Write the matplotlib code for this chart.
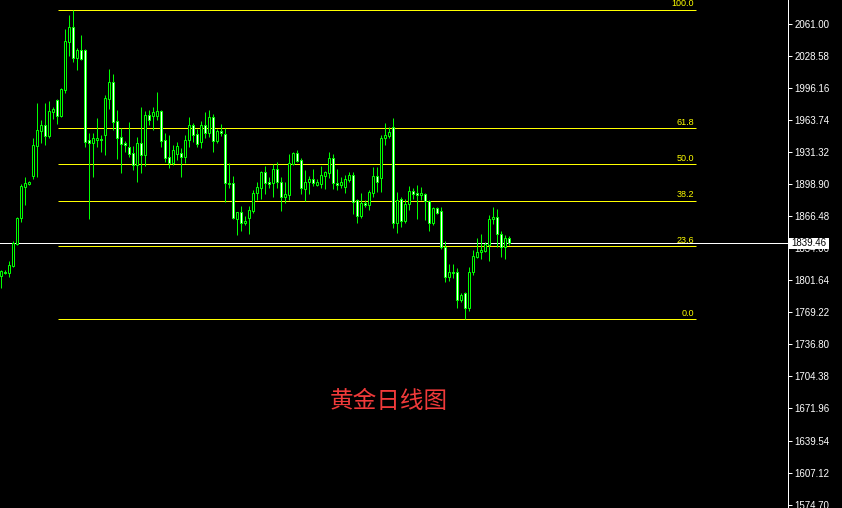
import matplotlib
matplotlib.use("Agg")
import matplotlib.pyplot as plt
from matplotlib.patches import Rectangle
from matplotlib.transforms import blended_transform_factory

plt.rcParams['font.family'] = ['Liberation Sans', 'DejaVu Sans']

# ---- data (daily gold OHLC) ----
opens = [1806.1, 1810.2, 1809.2, 1816.2, 1838.5, 1864.9, 1896.2, 1899.3, 1907.4, 1937.8,
         1953.0, 1959.0, 1947.9, 1972.2, 1984.3, 1968.1, 1994.5, 2043.1, 2058.3, 2026.9,
         2035.0, 2035.0, 1943.8, 1940.8, 1943.8, 1944.8, 1948.9, 1985.4, 2002.6, 1963.1,
         1946.9, 1940.8, 1936.8, 1930.7, 1918.5, 1940.8, 1928.6, 1969.2, 1968.1, 1968.1,
         1973.2, 1943.8, 1926.6, 1920.5, 1929.7, 1930.7, 1926.6, 1943.8, 1959.0, 1949.9,
         1941.8, 1959.0, 1950.9, 1967.1, 1942.8, 1953.0, 1949.9, 1900.3, 1900.3, 1863.8,
         1870.9, 1859.8, 1864.9, 1871.9, 1890.2, 1895.2, 1911.4, 1901.3, 1900.3, 1914.5,
         1901.3, 1886.1, 1888.1, 1919.5, 1930.7, 1923.6, 1894.2, 1901.3, 1904.3, 1898.3,
         1899.3, 1907.4, 1910.4, 1925.6, 1900.3, 1898.3, 1896.2, 1903.3, 1908.4, 1883.1,
         1866.9, 1880.0, 1878.0, 1890.2, 1907.4, 1905.4, 1945.9, 1947.9, 1957.0, 1859.8,
         1884.1, 1861.8, 1879.0, 1892.2, 1890.2, 1888.1, 1889.2, 1882.1, 1859.8, 1875.0,
         1871.9, 1835.5, 1805.1, 1810.2, 1810.2, 1781.8, 1788.9, 1773.7, 1810.2, 1825.4,
         1830.4, 1831.4, 1837.5, 1863.8, 1865.9, 1848.6, 1835.5, 1844.6]
highs = [1812.2, 1812.2, 1821.3, 1841.6, 1865.9, 1899.3, 1906.4, 1902.3, 1945.9, 1981.3,
         1964.1, 1981.3, 1983.3, 1977.3, 1985.4, 1996.5, 2056.2, 2070.4, 2075.5, 2037.0,
         2050.2, 2036.0, 1950.9, 1950.9, 1966.1, 1948.9, 1989.4, 2015.7, 2010.7, 1974.2,
         1956.0, 1942.8, 1962.1, 1937.8, 1946.9, 1977.3, 1973.2, 1974.2, 1977.3, 1992.4,
         1974.2, 1950.9, 1948.9, 1938.8, 1941.8, 1935.7, 1948.9, 1967.1, 1961.1, 1955.0,
         1963.1, 1972.2, 1974.2, 1970.2, 1955.0, 1960.0, 1956.0, 1920.5, 1907.4, 1870.9,
         1877.0, 1866.9, 1877.0, 1893.2, 1901.3, 1912.5, 1917.5, 1906.4, 1919.5, 1921.6,
         1906.4, 1901.3, 1929.7, 1931.7, 1933.7, 1925.6, 1913.5, 1907.4, 1914.5, 1904.3,
         1917.5, 1912.5, 1931.7, 1929.7, 1914.5, 1906.4, 1908.4, 1911.4, 1911.4, 1884.1,
         1890.2, 1883.1, 1893.2, 1916.5, 1916.5, 1948.9, 1961.1, 1957.0, 1966.1, 1891.2,
         1886.1, 1884.1, 1897.3, 1895.2, 1898.3, 1896.2, 1890.2, 1883.1, 1876.0, 1876.0,
         1876.0, 1841.6, 1818.3, 1818.3, 1814.2, 1788.9, 1789.9, 1815.2, 1832.5, 1844.6,
         1848.6, 1840.6, 1867.9, 1876.0, 1874.0, 1851.7, 1847.6, 1846.6]
lows = [1794.0, 1808.1, 1805.1, 1815.2, 1837.5, 1860.8, 1878.0, 1898.3, 1904.3, 1906.4,
        1940.8, 1938.8, 1945.9, 1965.1, 1960.0, 1967.1, 1991.4, 2028.9, 2022.8, 2014.7,
        2024.8, 1936.8, 1863.8, 1906.4, 1936.8, 1931.7, 1928.6, 1975.2, 1954.0, 1924.6,
        1910.4, 1931.7, 1926.6, 1913.5, 1901.3, 1910.4, 1917.5, 1959.0, 1954.0, 1964.1,
        1936.8, 1921.6, 1915.5, 1918.5, 1923.6, 1906.4, 1920.5, 1936.8, 1941.8, 1936.8,
        1935.7, 1945.9, 1946.9, 1931.7, 1940.8, 1947.9, 1881.1, 1895.2, 1863.9, 1847.6,
        1851.7, 1857.8, 1848.6, 1869.9, 1883.1, 1884.1, 1889.2, 1895.2, 1886.1, 1895.2,
        1871.9, 1880.0, 1883.1, 1918.5, 1921.6, 1889.2, 1882.1, 1889.2, 1897.3, 1897.3,
        1895.2, 1894.2, 1905.4, 1894.2, 1893.2, 1895.2, 1890.2, 1901.3, 1868.9, 1859.8,
        1864.9, 1876.0, 1873.0, 1886.1, 1891.2, 1891.2, 1938.8, 1945.9, 1854.7, 1849.7,
        1855.7, 1859.8, 1873.0, 1884.1, 1863.8, 1883.1, 1862.8, 1851.7, 1857.8, 1868.9,
        1833.5, 1800.0, 1801.1, 1804.1, 1773.7, 1779.8, 1762.6, 1770.7, 1807.1, 1824.4,
        1823.3, 1830.4, 1821.3, 1858.8, 1835.5, 1825.4, 1823.3, 1837.5]
closes = [1811.2, 1809.2, 1817.3, 1839.5, 1864.9, 1897.3, 1900.3, 1901.3, 1938.8, 1954.0,
          1959.0, 1947.9, 1973.2, 1975.2, 1968.1, 1995.5, 2044.1, 2058.3, 2026.9, 2035.0,
          2025.9, 1941.8, 1940.8, 1945.9, 1945.9, 1943.8, 1986.4, 2002.6, 1962.1, 1945.9,
          1939.8, 1938.8, 1929.7, 1918.5, 1940.8, 1928.6, 1969.2, 1964.1, 1972.2, 1973.2,
          1942.8, 1925.6, 1920.5, 1933.7, 1937.8, 1926.6, 1943.8, 1959.0, 1948.9, 1939.8,
          1959.0, 1950.9, 1967.1, 1942.8, 1953.0, 1950.9, 1900.3, 1899.3, 1864.9, 1870.9,
          1859.8, 1861.8, 1873.0, 1890.2, 1896.2, 1911.4, 1900.3, 1899.3, 1914.5, 1901.3,
          1886.1, 1889.2, 1920.5, 1930.7, 1922.6, 1895.2, 1901.3, 1904.3, 1900.3, 1901.3,
          1908.4, 1911.4, 1925.6, 1900.3, 1898.3, 1901.3, 1904.3, 1908.4, 1881.1, 1866.9,
          1880.0, 1878.0, 1891.2, 1907.4, 1901.3, 1945.9, 1948.9, 1952.0, 1859.8, 1883.1,
          1861.8, 1879.0, 1892.2, 1889.2, 1888.1, 1890.2, 1882.1, 1859.8, 1875.0, 1869.9,
          1835.5, 1805.1, 1810.2, 1809.2, 1781.8, 1786.9, 1773.7, 1810.2, 1826.4, 1830.4,
          1832.5, 1838.5, 1863.8, 1865.9, 1848.6, 1835.5, 1844.6, 1839.46]

fib_high = 2075.5
fib_low = 1762.6
fib_levels = [100.0, 61.8, 50.0, 38.2, 23.6, 0.0]
fib_labels = ["100.0", "61.8", "50.0", "38.2", "23.6", "0.0"]

price_ticks = [2061.00, 2028.58, 1996.16, 1963.74, 1931.32, 1898.90, 1866.48, 1834.06,
               1801.64, 1769.22, 1736.80, 1704.38, 1671.96, 1639.54, 1607.12, 1574.70]
tick_labels = ["2061.00", "2028.58", "1996.16", "1963.74", "1931.32", "1898.90", "1866.48",
               "1834.06", "1801.64", "1769.22", "1736.80", "1704.38", "1671.96", "1639.54",
               "1607.12", "1574.70"]
last_price = 1839.46
title_text = "黄金日线图"

# ---- figure ----
W, H = 842, 508
fig = plt.figure(figsize=(W / 100, H / 100), dpi=100, facecolor='black')
ax = fig.add_axes([0, 0, 788 / W, 1])
ax.set_facecolor('black')
ax.set_xlim(-0.325, 196.675)
ax.set_ylim(1571.2, 2085.6)

px = 0.72  # one pixel in points
green = '#00ff00'
yellow = '#ffff00'

xs = list(range(len(opens)))
ax.vlines(xs, lows, highs, color=green, linewidth=px, zorder=2)
for i in xs:
    o, c = opens[i], closes[i]
    bull = c >= o
    bottom = min(o, c)
    h = max(abs(c - o), 0.3)
    ax.add_patch(Rectangle((i - 0.25, bottom), 0.5, h,
                           facecolor='black' if bull else 'white',
                           edgecolor=green, linewidth=px, zorder=3))

# fibonacci levels
x0, x1 = 14.2, 173.7
for lev, lab in zip(fib_levels, fib_labels):
    y = fib_low + (fib_high - fib_low) * lev / 100.0
    ax.hlines(y, x0, x1, color=yellow, linewidth=px, zorder=1)
    ax.text(173.1, y + 1.5, lab, color=yellow, fontsize=6.5, ha='right', va='bottom',
            zorder=4)

# current price line
ax.axhline(last_price, color='white', linewidth=px, zorder=1.5)

# axes styling
for s in ['top', 'bottom', 'left']:
    ax.spines[s].set_visible(False)
ax.spines['right'].set_color('white')
ax.spines['right'].set_linewidth(px)
ax.set_xticks([])
ax.yaxis.tick_right()
ax.set_yticks(price_ticks)
ax.set_yticklabels(tick_labels)
ax.tick_params(axis='y', colors='white', length=3.2, width=px, pad=1.5,
               labelsize=7, labelcolor='white')

# price label box
fig.patches.append(Rectangle((789 / W, (H - 249) / H), 40 / W, 11 / H,
                             transform=fig.transFigure, facecolor='white',
                             edgecolor='none', zorder=5))
fig.text(791 / W, (H - 243.5) / H, f"{last_price:.2f}", color='black', fontsize=7,
         ha='left', va='center', zorder=6)

# red caption
fig.text(389 / W, (H - 401) / H, title_text, color='#f03a3a', fontsize=17,
         ha='center', va='center', family=['Noto Sans CJK SC', 'DejaVu Sans'])

fig.savefig('out.png', dpi=100, facecolor='black')
